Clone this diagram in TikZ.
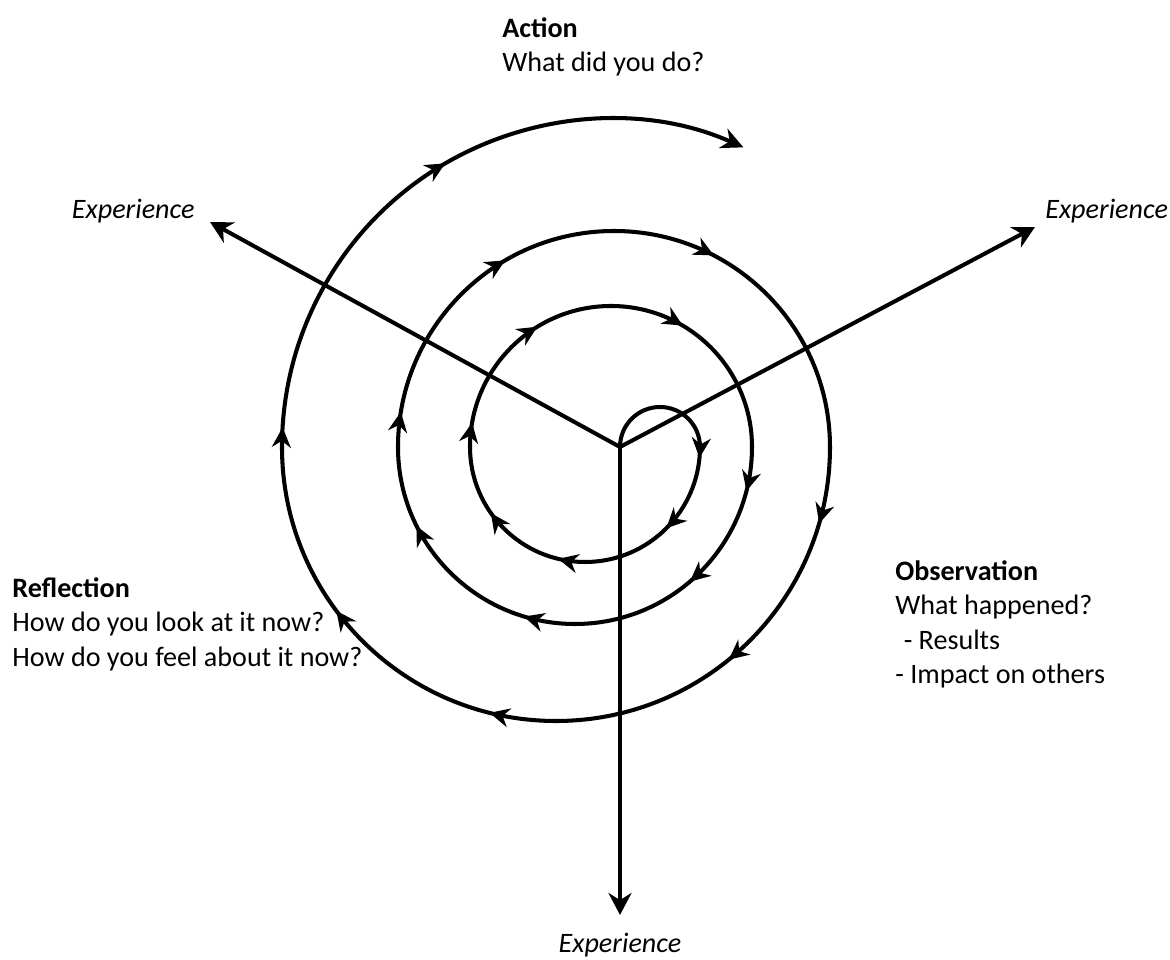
\documentclass[tikz,border=0pt]{standalone}
\usepackage{fontspec}
\setmainfont{Carlito}
\usetikzlibrary{arrows.meta,positioning,calc,decorations.markings}

\begin{document}
\begin{tikzpicture}[
  >=Stealth,
  every node/.style={font=\fontsize{16}{19.6}\selectfont, inner sep=0pt},
  stage/.style={align=left, anchor=north west},
  exptext/.style={font=\fontsize{16}{19.6}\selectfont\itshape},
  spoke/.style={-{Stealth[length=4.4mm,width=4.6mm]}, draw=black, line width=2.3pt},
  coil/.style={draw=black, line width=2.3pt},
  flow at/.style={postaction={decorate, decoration={markings,
      mark=at position #1 with {\arrow{Stealth[length=4mm,width=3.8mm]}}}}}
]
  \useasboundingbox (-12.4,-10.26) rectangle (11.0,8.94);

  \coordinate (O) at (0,0);
  \coordinate (L) at (-8.2,4.5);
  \coordinate (R) at (8.3,4.4);
  \coordinate (D) at (0,-9.36);

  % the three experience axes
  \draw[spoke] (O) -- (L);
  \draw[spoke] (O) -- (R);
  \draw[spoke] (O) -- (D);

  % spiral, half turns round shifting centres
  \draw[coil] (O) arc[start angle=180, end angle=0, radius=0.8] coordinate (s1);
  \draw[coil, flow at/.list={0.03,0.25,0.575,0.805}]
    (s1) arc[start angle=0, end angle=-180, radius=2.3] coordinate (s2);
  \draw[coil, flow at/.list={0.055,0.325,0.67}]
    (s2) arc[start angle=180, end angle=0, radius=2.82] coordinate (s3);
  \draw[coil, flow at/.list={0.08,0.275,0.593,0.853}]
    (s3) arc[start angle=0, end angle=-180, radius=3.54] coordinate (s4);
  \draw[coil, flow at/.list={0.052,0.332,0.653}]
    (s4) arc[start angle=180, end angle=0, radius=4.32] coordinate (s5);
  \draw[coil, flow at/.list={0.09,0.283,0.578,0.796}]
    (s5) arc[start angle=0, end angle=-180, radius=5.48] coordinate (s6);
  \draw[coil, -{Stealth[length=4.4mm,width=4.2mm]}, flow at/.list={0.03,0.525}]
    (s6) arc[start angle=180, end angle=66, radius=6.56];

  \node[stage] (act) at (-2.36,8.68) {\strut\textbf{Action}\\What did you do?};
  \node[stage] (refl) at (-12.16,-2.52) {\strut\textbf{Reflection}\\How do you look at it now?\\How do you feel about it now?};
  \node[stage] (obs) at (5.5,-2.18) {\strut\textbf{Observation}\\What happened?\\\hspace{0.3em}- Results\\- Impact on others};

  \node[exptext, anchor=base east] (eL) at (-8.5,4.56) {Experience};
  \node[exptext, anchor=base west] (eR) at (8.5,4.56) {Experience};
  \node[exptext, anchor=base] (eD) at (0,-10.12) {Experience};
\end{tikzpicture}
\end{document}
